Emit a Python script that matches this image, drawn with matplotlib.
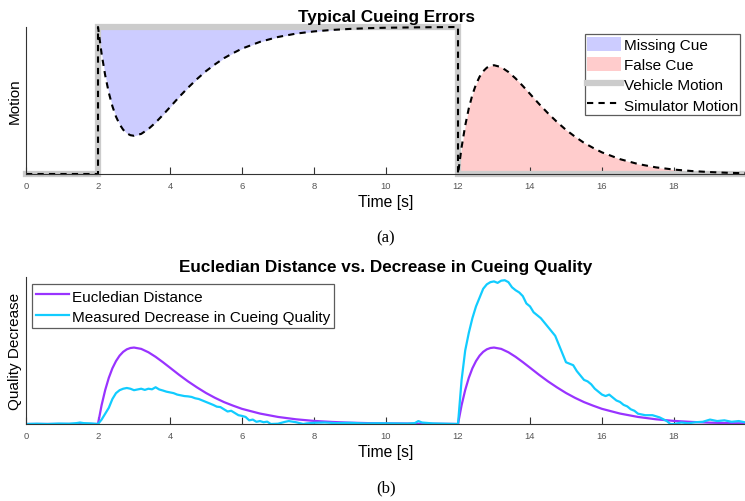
import numpy as np
import matplotlib.pyplot as plt

plt.rcParams["font.family"] = ["Liberation Sans", "DejaVu Sans"]

# vehicle motion (step input)
vehicle_t = [0, 2, 2, 12, 12, 20]
vehicle_y = [0, 0, 1, 1, 0, 0]

# simulator motion (vehicle step = 1)
sim_t = [0, 2.0,
         2.0, 2.1, 2.2, 2.3, 2.4, 2.5, 2.6, 2.7, 2.8, 2.9, 3.0, 3.2, 3.4, 3.6, 3.8,
         4.0, 4.25, 4.5, 4.75, 5.0, 5.25, 5.5, 5.75, 6.0, 6.5, 7.0, 7.5, 8.0,
         8.5, 9.0, 9.5, 10.0, 11.0, 12.0,
         12.0, 12.1, 12.2, 12.3, 12.4, 12.5, 12.6, 12.7, 12.8, 12.9, 13.0, 13.2, 13.4,
         13.6, 13.8, 14.0, 14.25, 14.5, 14.75, 15.0, 15.25, 15.5, 15.75, 16.0, 16.5,
         17.0, 17.5, 18.0, 18.5, 19.0, 19.5, 20.0]
sim_y = [0, 0,
         1.000, 0.818, 0.671, 0.553, 0.461, 0.390, 0.338, 0.301, 0.277, 0.264, 0.260,
         0.273, 0.306, 0.350, 0.401,
         0.455, 0.523, 0.587, 0.646, 0.700, 0.746, 0.788, 0.822, 0.853, 0.899, 0.932,
         0.955, 0.970, 0.980, 0.987, 0.992, 0.995, 0.998, 1.000,
         0.000, 0.182, 0.329, 0.447, 0.539, 0.610, 0.662, 0.699, 0.723, 0.736, 0.740,
         0.727, 0.694, 0.650, 0.599,
         0.545, 0.477, 0.413, 0.354, 0.300, 0.254, 0.212, 0.178, 0.147, 0.101, 0.068,
         0.045, 0.030, 0.020, 0.013, 0.008, 0.005]

# euclidean distance between vehicle and simulator motion
eucl_t = [0, 2.0, 2.1, 2.2, 2.3, 2.4, 2.5, 2.6, 2.7, 2.8, 2.9, 3.0, 3.2, 3.4, 3.6, 3.8,
          4.0, 4.25, 4.5, 4.75, 5.0, 5.25, 5.5, 5.75, 6.0, 6.5, 7.0, 7.5, 8.0,
          8.5, 9.0, 9.5, 10.0, 11.0, 12.0,
          12.1, 12.2, 12.3, 12.4, 12.5, 12.6, 12.7, 12.8, 12.9, 13.0, 13.2, 13.4,
          13.6, 13.8, 14.0, 14.25, 14.5, 14.75, 15.0, 15.25, 15.5, 15.75, 16.0, 16.5,
          17.0, 17.5, 18.0, 18.5, 19.0, 19.5, 20.0]
eucl_y = [0, 0, 0.128, 0.231, 0.314, 0.379, 0.428, 0.465, 0.491, 0.508, 0.517, 0.520,
          0.511, 0.488, 0.457, 0.421,
          0.383, 0.335, 0.290, 0.249, 0.211, 0.178, 0.149, 0.125, 0.103, 0.071, 0.048,
          0.032, 0.021, 0.014, 0.009, 0.006, 0.004, 0.002, 0.0,
          0.128, 0.231, 0.314, 0.379, 0.428, 0.465, 0.491, 0.508, 0.517, 0.520,
          0.511, 0.488, 0.457, 0.421,
          0.383, 0.335, 0.290, 0.249, 0.211, 0.178, 0.149, 0.125, 0.103, 0.071, 0.048,
          0.032, 0.021, 0.014, 0.009, 0.006, 0.004]

# measured decrease in cueing quality (noisy)
meas_t = [0, 0.3, 0.6, 0.9, 1.2, 1.4, 1.5, 1.6, 1.8, 2.0,
          2.1, 2.2, 2.3, 2.4, 2.5, 2.6, 2.7, 2.8, 2.9, 3.0, 3.1, 3.2, 3.3, 3.4, 3.5,
          3.6, 3.7, 3.8, 3.9, 4.0, 4.1, 4.2, 4.3, 4.4, 4.5, 4.6, 4.7, 4.8, 4.9, 5.0,
          5.1, 5.2, 5.3, 5.4, 5.5, 5.6, 5.7, 5.8, 5.9, 6.0, 6.1, 6.2, 6.3, 6.4, 6.5,
          6.6, 6.7, 6.8, 7.0, 7.2, 7.3, 7.5, 7.7, 7.8, 8.0, 8.3, 8.6, 9.0, 9.4, 9.8,
          10.2, 10.6, 10.8, 10.9, 11.0, 11.3, 11.6, 12.0,
          12.1, 12.2, 12.3, 12.4, 12.5, 12.6, 12.7, 12.8, 12.9, 13.0, 13.1, 13.2,
          13.3, 13.4, 13.5, 13.6, 13.7, 13.8, 13.9, 14.0, 14.1, 14.2, 14.3, 14.4,
          14.5, 14.6, 14.7, 14.8, 14.9, 15.0, 15.1, 15.2, 15.3, 15.4, 15.5, 15.6,
          15.7, 15.8, 15.9, 16.0, 16.1, 16.2, 16.3, 16.4, 16.5, 16.6, 16.7, 16.8,
          16.9, 17.0, 17.2, 17.4, 17.6, 17.8, 17.9, 18.0, 18.2, 18.4, 18.6, 18.8,
          19.0, 19.2, 19.4, 19.6, 19.8, 20.0]
meas_y = [0.0, 0.002, 0.0, 0.003, 0.002, 0.006, 0.01, 0.006, 0.004, 0.0,
          0.03, 0.07, 0.11, 0.17, 0.21, 0.23, 0.24, 0.245, 0.24, 0.23, 0.235, 0.24,
          0.232, 0.24, 0.236, 0.25, 0.235, 0.228, 0.22, 0.215, 0.21, 0.2, 0.195,
          0.19, 0.188, 0.184, 0.175, 0.17, 0.16, 0.15, 0.14, 0.13, 0.118, 0.115,
          0.1, 0.085, 0.09, 0.075, 0.06, 0.055, 0.048, 0.025, 0.03, 0.015, 0.02,
          0.012, 0.016, 0.0, 0.002, 0.015, 0.02, 0.012, 0.0, 0.004, 0.008, 0.01,
          0.006, 0.008, 0.004, 0.005,
          0.004, 0.003, 0.006, 0.02, 0.01, 0.004, 0.002, 0.0,
          0.3, 0.5, 0.62, 0.72, 0.8, 0.86, 0.92, 0.95, 0.965, 0.97, 0.96, 0.975,
          0.978, 0.965, 0.93, 0.91, 0.895, 0.87, 0.82, 0.8, 0.76, 0.74, 0.72, 0.69,
          0.66, 0.63, 0.6, 0.54, 0.48, 0.42, 0.41, 0.4, 0.36, 0.33, 0.3, 0.29,
          0.27, 0.24, 0.22, 0.2, 0.19, 0.2, 0.18, 0.16, 0.15, 0.13, 0.12, 0.1,
          0.09, 0.07, 0.06, 0.06, 0.045, 0.02, 0.0, 0.0, 0.01, 0.005, 0.012, 0.015,
          0.03, 0.02, 0.025, 0.015, 0.02, 0.01]

time_ticks = [0, 2, 4, 6, 8, 10, 12, 14, 16, 18]

fig = plt.figure(figsize=(7.45, 5.02), dpi=100)
ax1 = fig.add_axes([26 / 745, 1 - 175 / 502, 720 / 745, 147 / 502])
ax2 = fig.add_axes([26 / 745, 1 - 425 / 502, 720 / 745, 147 / 502])


def style_legend(leg):
    leg.get_frame().set_edgecolor("#333333")
    leg.get_frame().set_linewidth(0.9)


# --- top: typical cueing errors ---
st = np.array(sim_t, float)
sy = np.array(sim_y, float)
m1 = (st >= 2) & (st <= 12) & ~((st == 2) & (sy == 0)) & ~((st == 12) & (sy == 0))
ax1.fill_between(st[m1], sy[m1], 1, color="#ccccff", lw=0, label="Missing Cue")
m2 = (st >= 12) & ~((st == 12) & (sy == 1))
ax1.fill_between(st[m2], 0, sy[m2], color="#ffcccc", lw=0, label="False Cue")
ax1.plot(vehicle_t, vehicle_y, color="#cccccc", lw=4.5, clip_on=False,
         label="Vehicle Motion", solid_joinstyle="miter")
ax1.plot(sim_t, sim_y, "--", color="black", lw=1.5, clip_on=False,
         label="Simulator Motion", dashes=(3, 2.5))
ax1.set_title("Typical Cueing Errors", fontsize=12.3, fontweight="bold", pad=4)
ax1.set_ylabel("Motion", fontsize=11, labelpad=3)
leg1 = ax1.legend(loc="upper right", bbox_to_anchor=(0.992, 0.95), fontsize=11,
                  frameon=True, fancybox=False, handlelength=2.2, handleheight=1.1,
                  handletextpad=0.2, borderpad=0.15, labelspacing=0.3,
                  borderaxespad=0)
style_legend(leg1)

# --- bottom: euclidean distance vs measured ---
ax2.plot(eucl_t, eucl_y, color="#9933ff", lw=1.6, label="Eucledian Distance")
ax2.plot(meas_t, meas_y, color="#11ccff", lw=1.6,
         label="Measured Decrease in Cueing Quality")
ax2.set_title("Eucledian Distance vs. Decrease in Cueing Quality", fontsize=12.3,
              fontweight="bold", pad=4)
ax2.set_ylabel("Quality Decrease", fontsize=11, labelpad=3)
leg2 = ax2.legend(loc="upper left", bbox_to_anchor=(0.008, 0.95), fontsize=11,
                  frameon=True, fancybox=False, handlelength=2.2, handleheight=1.1,
                  handletextpad=0.2, borderpad=0.25, labelspacing=0.3,
                  borderaxespad=0)
style_legend(leg2)

for ax, tag in [(ax1, "(a)"), (ax2, "(b)")]:
    ax.set_xlim(0, 20)
    ax.set_ylim(0, 1)
    ax.set_xticks(time_ticks)
    ax.set_yticks([])
    ax.tick_params(axis="x", direction="in", length=5, width=0.8, labelsize=6.8,
                   labelcolor="#555555", color="#333333", pad=5)
    ax.spines["top"].set_visible(False)
    ax.spines["right"].set_visible(False)
    for s in ("left", "bottom"):
        ax.spines[s].set_color("#333333")
        ax.spines[s].set_linewidth(0.8)
    ax.set_xlabel("Time [s]", fontsize=11.3, labelpad=3)
    ax.text(0.5, -0.43, tag, transform=ax.transAxes, ha="center", va="center",
            fontsize=12, family="Liberation Serif")

fig.savefig("out.png", dpi=100)
